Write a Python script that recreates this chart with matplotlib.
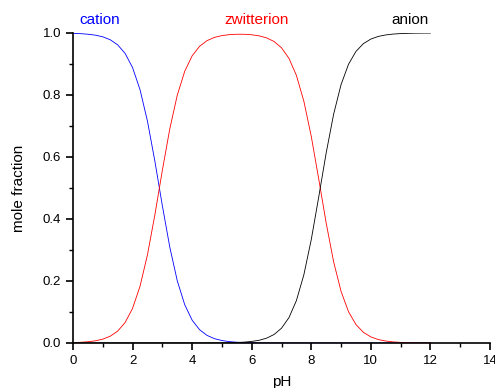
import numpy as np
import matplotlib
matplotlib.use('Agg')
import matplotlib.pyplot as plt
from matplotlib.ticker import MultipleLocator

plt.rcParams['font.family'] = ['Liberation Sans', 'DejaVu Sans']

# pH grid and mole fractions
ph = [0, 0.25, 0.5, 0.75, 1.0, 1.25, 1.5, 1.75, 2.0, 2.25, 2.5, 2.75,
      3.0, 3.25, 3.5, 3.75, 4.0, 4.25, 4.5, 4.75, 5.0, 5.25, 5.5, 5.75,
      6.0, 6.25, 6.5, 6.75, 7.0, 7.25, 7.5, 7.75, 8.0, 8.25, 8.5, 8.75,
      9.0, 9.25, 9.5, 9.75, 10.0, 10.25, 10.5, 10.75, 11.0, 11.25, 11.5, 11.75, 12.0]

cation = [0.9987, 0.9978, 0.9960, 0.9930, 0.9876, 0.9781, 0.9617, 0.9339,
          0.8882, 0.8171, 0.7153, 0.5855, 0.4427, 0.3088, 0.2008, 0.1237,
          0.0735, 0.0428, 0.0245, 0.0139, 0.0079, 0.0044, 0.0025, 0.0014,
          0.0008, 0.0004, 0.0002, 0.0001, 0.0001, 0, 0, 0,
          0, 0, 0, 0, 0, 0, 0, 0,
          0, 0, 0, 0, 0, 0, 0, 0, 0]

zwitterion = [0.0013, 0.0022, 0.0040, 0.0070, 0.0124, 0.0219, 0.0383, 0.0661,
              0.1118, 0.1829, 0.2847, 0.4145, 0.5573, 0.6912, 0.7992, 0.8762,
              0.9264, 0.9571, 0.9753, 0.9858, 0.9916, 0.9947, 0.9959, 0.9958,
              0.9942, 0.9907, 0.9842, 0.9725, 0.9522, 0.9182, 0.8632, 0.7801,
              0.6661, 0.5288, 0.3869, 0.2619, 0.1663, 0.1009, 0.0594, 0.0343,
              0.0196, 0.0111, 0.0063, 0.0035, 0.0020, 0.0011, 0.0006, 0.0004, 0.0002]

anion = [0, 0, 0, 0, 0, 0, 0, 0,
         0, 0, 0, 0, 0, 0, 0, 0,
         0, 0, 0.0002, 0.0003, 0.0005, 0.0009, 0.0016, 0.0028,
         0.0050, 0.0088, 0.0156, 0.0274, 0.0477, 0.0818, 0.1368, 0.2199,
         0.3339, 0.4712, 0.6131, 0.7381, 0.8337, 0.8991, 0.9406, 0.9657,
         0.9804, 0.9889, 0.9937, 0.9965, 0.9980, 0.9989, 0.9994, 0.9996, 0.9998]

fig = plt.figure(figsize=(4.95, 3.88), dpi=100)
ax = fig.add_axes([0.1475, 0.116, 0.8424, 0.799])

ax.plot(ph, cation, color='#0000ff', lw=0.6)
ax.plot(ph, zwitterion, color='#ff0000', lw=0.6)
ax.plot(ph, anion, color='black', lw=0.6)

ax.set_xlim(0, 14)
ax.set_ylim(0, 1)
ax.spines['top'].set_visible(False)
ax.spines['right'].set_visible(False)
for s in ['left', 'bottom']:
    ax.spines[s].set_linewidth(1.2)

ax.xaxis.set_major_locator(MultipleLocator(2))
ax.xaxis.set_minor_locator(MultipleLocator(1))
ax.yaxis.set_major_locator(MultipleLocator(0.2))
ax.yaxis.set_minor_locator(MultipleLocator(0.1))
ax.yaxis.set_major_formatter(plt.FuncFormatter(lambda v, p: '%.1f' % v))
ax.tick_params(which='major', length=5, width=1.2, labelsize=9.5)
ax.tick_params(which='minor', length=3, width=1.0)

ax.set_xlabel('pH', fontsize=11, labelpad=6)
ax.set_ylabel('mole fraction', fontsize=11, labelpad=12)

ax.text(0.91, 1.042, 'cation', color='#0000ff', fontsize=11, ha='center', va='center', clip_on=False)
ax.text(6.17, 1.042, 'zwitterion', color='#ff0000', fontsize=11, ha='center', va='center', clip_on=False)
ax.text(11.3, 1.042, 'anion', color='black', fontsize=11, ha='center', va='center', clip_on=False)

fig.savefig('out.png', dpi=100)
